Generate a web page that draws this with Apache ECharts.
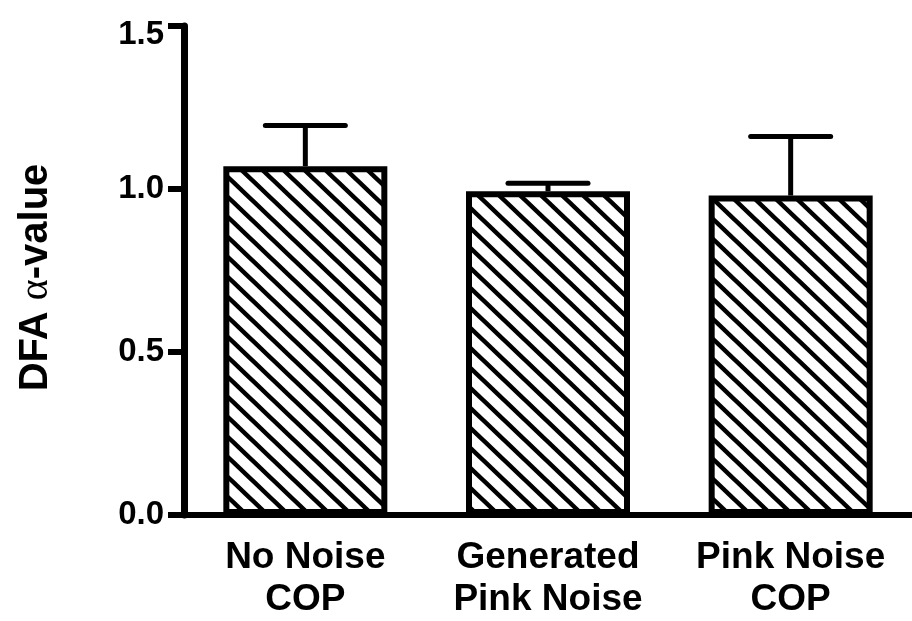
<!DOCTYPE html>
<html>
<head>
<meta charset="utf-8">
<script src="https://cdn.jsdelivr.net/npm/echarts@6/dist/echarts.min.js"></script>
<style>
html,body{margin:0;padding:0;background:#fff;}
#chart{width:912px;height:621px;}
</style>
</head>
<body>
<div id="chart"></div>
<script>
// ---- data ----
const categories = ['No Noise\nCOP', 'Generated\nPink Noise', 'Pink Noise\nCOP'];
const meanValues = [1.070, 0.993, 0.980];
const semValues = [0.125, 0.025, 0.181];
const yMin = 0;
const yMax = 1.5;
const yStep = 0.5;
const yAxisTitle = 'DFA {a|α}-value';

// ---- hatch pattern ----
function makeHatch() {
  const W = 21, H = 20;
  const c = document.createElement('canvas');
  c.width = W; c.height = H;
  const ctx = c.getContext('2d');
  ctx.strokeStyle = '#000';
  ctx.lineWidth = 4.5;
  for (let k = -1; k <= 1; k++) {
    ctx.beginPath();
    ctx.moveTo(-W + k * W, -H);
    ctx.lineTo(2 * W + k * W, 2 * H);
    ctx.stroke();
  }
  return c;
}

const font = '"Liberation Sans", Arial, Helvetica, sans-serif';
const chart = echarts.init(document.getElementById('chart'), null, {renderer: 'canvas'});

const errData = categories.map((c, i) => [i, meanValues[i], meanValues[i] + semValues[i]]);

chart.setOption({
  backgroundColor: '#ffffff',
  animation: false,
  grid: {left: 184, top: 26, bottom: 105, width: 737, containLabel: false},
  xAxis: {
    type: 'category',
    data: categories,
    boundaryGap: true,
    axisLine: {lineStyle: {color: '#000', width: 6}},
    axisTick: {alignWithLabel: true, length: 19, lineStyle: {color: '#000', width: 5}},
    axisLabel: {
      color: '#000', fontFamily: font, fontWeight: 'bold', fontSize: 37,
      lineHeight: 42, margin: 22, interval: 0
    },
    splitLine: {show: false}
  },
  yAxis: {
    type: 'value',
    min: yMin, max: yMax, interval: yStep,
    name: yAxisTitle,
    nameLocation: 'middle',
    nameRotate: 90,
    nameGap: 128,
    nameTextStyle: {
      color: '#000', fontFamily: font, fontWeight: 'bold', fontSize: 40,
      padding: [0, 14, 0, 0],
      rich: {
        a: {color: '#000', fontFamily: '"Liberation Serif", "Times New Roman", serif', fontWeight: 'normal', fontSize: 40}
      }
    },
    axisLine: {show: true, lineStyle: {color: '#000', width: 7}},
    axisTick: {show: true, length: 16, lineStyle: {color: '#000', width: 6}},
    axisLabel: {
      color: '#000', fontFamily: font, fontWeight: 'bold', fontSize: 33, margin: 20,
      formatter: function (v) {
        const s = v.toFixed(1);
        return v === yMax ? '{top|' + s + '}' : s;
      },
      rich: {
        top: {color: '#000', fontFamily: font, fontWeight: 'bold', fontSize: 33, padding: [18, 0, 0, 0]}
      }
    },
    splitLine: {show: false}
  },
  series: [
    {
      type: 'custom',
      z: 1,
      data: errData,
      encode: {x: 0, y: [1, 2]},
      renderItem: function (params, api) {
        const idx = api.value(0);
        const base = api.coord([idx, api.value(1)]);
        const top = api.coord([idx, api.value(2)]);
        const half = 40;
        return {
          type: 'group',
          children: [
            {type: 'line', shape: {x1: base[0], y1: base[1], x2: top[0], y2: top[1]},
             style: {stroke: '#000', lineWidth: 5}},
            {type: 'line', shape: {x1: top[0] - half, y1: top[1], x2: top[0] + half, y2: top[1]},
             style: {stroke: '#000', lineWidth: 5, lineCap: 'round'}}
          ]
        };
      }
    },
    {
      type: 'bar',
      z: 2,
      data: meanValues,
      barWidth: 164,
      itemStyle: {
        color: {image: makeHatch(), repeat: 'repeat'},
        borderColor: '#000',
        borderWidth: 6
      },
      emphasis: {disabled: true}
    }
  ]
});
</script>
</body>
</html>
